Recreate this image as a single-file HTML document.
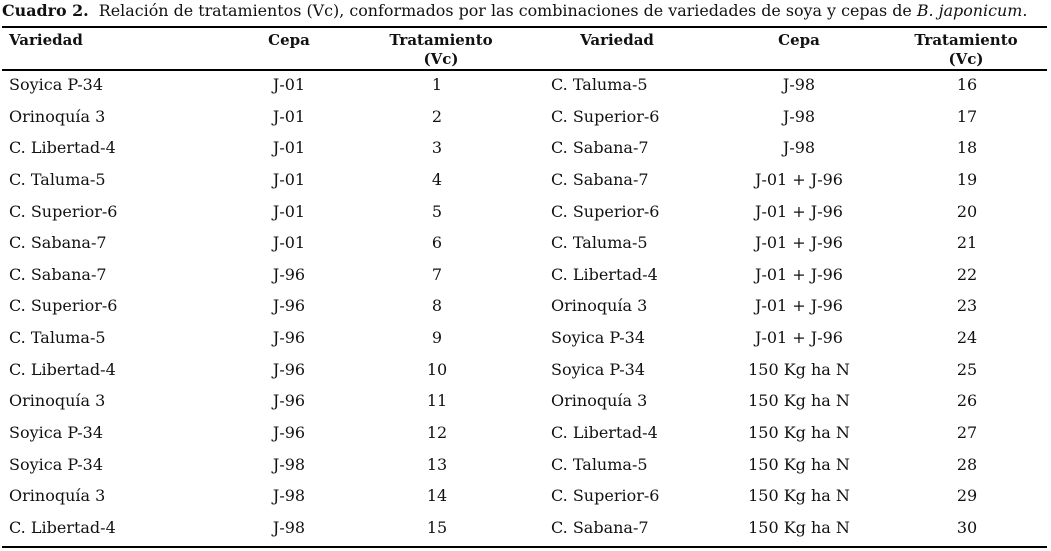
<!DOCTYPE html>
<html><head><meta charset="utf-8"><style>
body{margin:0;width:1051px;height:551px;background:#fff;position:relative;overflow:hidden;font-family:"DejaVu Serif","Liberation Serif",serif;font-size:16px;color:#111}
.t{position:absolute;line-height:19px;white-space:nowrap}
.c{transform:translateX(-50%);text-align:center}
.b{font-weight:bold;font-size:15px}
.hl{position:absolute;left:2px;width:1045px;background:#000}
.r{position:absolute;left:0;width:1051px;height:20px}
.r span{position:absolute;top:0;line-height:20px;white-space:nowrap}
.r .a{left:9px}.r .p{left:289px;transform:translateX(-50%)}.r .n{left:437px;transform:translateX(-50%)}
.r .a2{left:551px}.r .p2{left:799px;transform:translateX(-50%)}.r .n2{left:967px;transform:translateX(-50%)}
</style></head><body>
<div class="t" style="left:2px;top:1px;font-size:15.9px"><b>Cuadro 2.</b>&nbsp; Relación de tratamientos (Vc), conformados por las combinaciones de variedades de soya y cepas de <i>B. japonicum</i>.</div>
<div class="hl" style="top:26px;height:2px"></div>
<div class="t b" style="left:9px;top:31px">Variedad</div>
<div class="t b c" style="left:289px;top:31px">Cepa</div>
<div class="t b c" style="left:441px;top:31px">Tratamiento<br>(Vc)</div>
<div class="t b c" style="left:617px;top:31px">Variedad</div>
<div class="t b c" style="left:799px;top:31px">Cepa</div>
<div class="t b c" style="left:966px;top:31px">Tratamiento<br>(Vc)</div>
<div class="hl" style="top:69px;height:2px"></div>
<div class="r" style="top:75px"><span class="a">Soyica P-34</span><span class="p">J-01</span><span class="n">1</span><span class="a2">C. Taluma-5</span><span class="p2">J-98</span><span class="n2">16</span></div>
<div class="r" style="top:107px"><span class="a">Orinoquía 3</span><span class="p">J-01</span><span class="n">2</span><span class="a2">C. Superior-6</span><span class="p2">J-98</span><span class="n2">17</span></div>
<div class="r" style="top:138px"><span class="a">C. Libertad-4</span><span class="p">J-01</span><span class="n">3</span><span class="a2">C. Sabana-7</span><span class="p2">J-98</span><span class="n2">18</span></div>
<div class="r" style="top:170px"><span class="a">C. Taluma-5</span><span class="p">J-01</span><span class="n">4</span><span class="a2">C. Sabana-7</span><span class="p2">J-01 + J-96</span><span class="n2">19</span></div>
<div class="r" style="top:202px"><span class="a">C. Superior-6</span><span class="p">J-01</span><span class="n">5</span><span class="a2">C. Superior-6</span><span class="p2">J-01 + J-96</span><span class="n2">20</span></div>
<div class="r" style="top:233px"><span class="a">C. Sabana-7</span><span class="p">J-01</span><span class="n">6</span><span class="a2">C. Taluma-5</span><span class="p2">J-01 + J-96</span><span class="n2">21</span></div>
<div class="r" style="top:265px"><span class="a">C. Sabana-7</span><span class="p">J-96</span><span class="n">7</span><span class="a2">C. Libertad-4</span><span class="p2">J-01 + J-96</span><span class="n2">22</span></div>
<div class="r" style="top:296px"><span class="a">C. Superior-6</span><span class="p">J-96</span><span class="n">8</span><span class="a2">Orinoquía 3</span><span class="p2">J-01 + J-96</span><span class="n2">23</span></div>
<div class="r" style="top:328px"><span class="a">C. Taluma-5</span><span class="p">J-96</span><span class="n">9</span><span class="a2">Soyica P-34</span><span class="p2">J-01 + J-96</span><span class="n2">24</span></div>
<div class="r" style="top:360px"><span class="a">C. Libertad-4</span><span class="p">J-96</span><span class="n">10</span><span class="a2">Soyica P-34</span><span class="p2">150 Kg ha N</span><span class="n2">25</span></div>
<div class="r" style="top:391px"><span class="a">Orinoquía 3</span><span class="p">J-96</span><span class="n">11</span><span class="a2">Orinoquía 3</span><span class="p2">150 Kg ha N</span><span class="n2">26</span></div>
<div class="r" style="top:423px"><span class="a">Soyica P-34</span><span class="p">J-96</span><span class="n">12</span><span class="a2">C. Libertad-4</span><span class="p2">150 Kg ha N</span><span class="n2">27</span></div>
<div class="r" style="top:455px"><span class="a">Soyica P-34</span><span class="p">J-98</span><span class="n">13</span><span class="a2">C. Taluma-5</span><span class="p2">150 Kg ha N</span><span class="n2">28</span></div>
<div class="r" style="top:486px"><span class="a">Orinoquía 3</span><span class="p">J-98</span><span class="n">14</span><span class="a2">C. Superior-6</span><span class="p2">150 Kg ha N</span><span class="n2">29</span></div>
<div class="r" style="top:518px"><span class="a">C. Libertad-4</span><span class="p">J-98</span><span class="n">15</span><span class="a2">C. Sabana-7</span><span class="p2">150 Kg ha N</span><span class="n2">30</span></div>
<div class="hl" style="top:546px;height:2px"></div>
</body></html>
